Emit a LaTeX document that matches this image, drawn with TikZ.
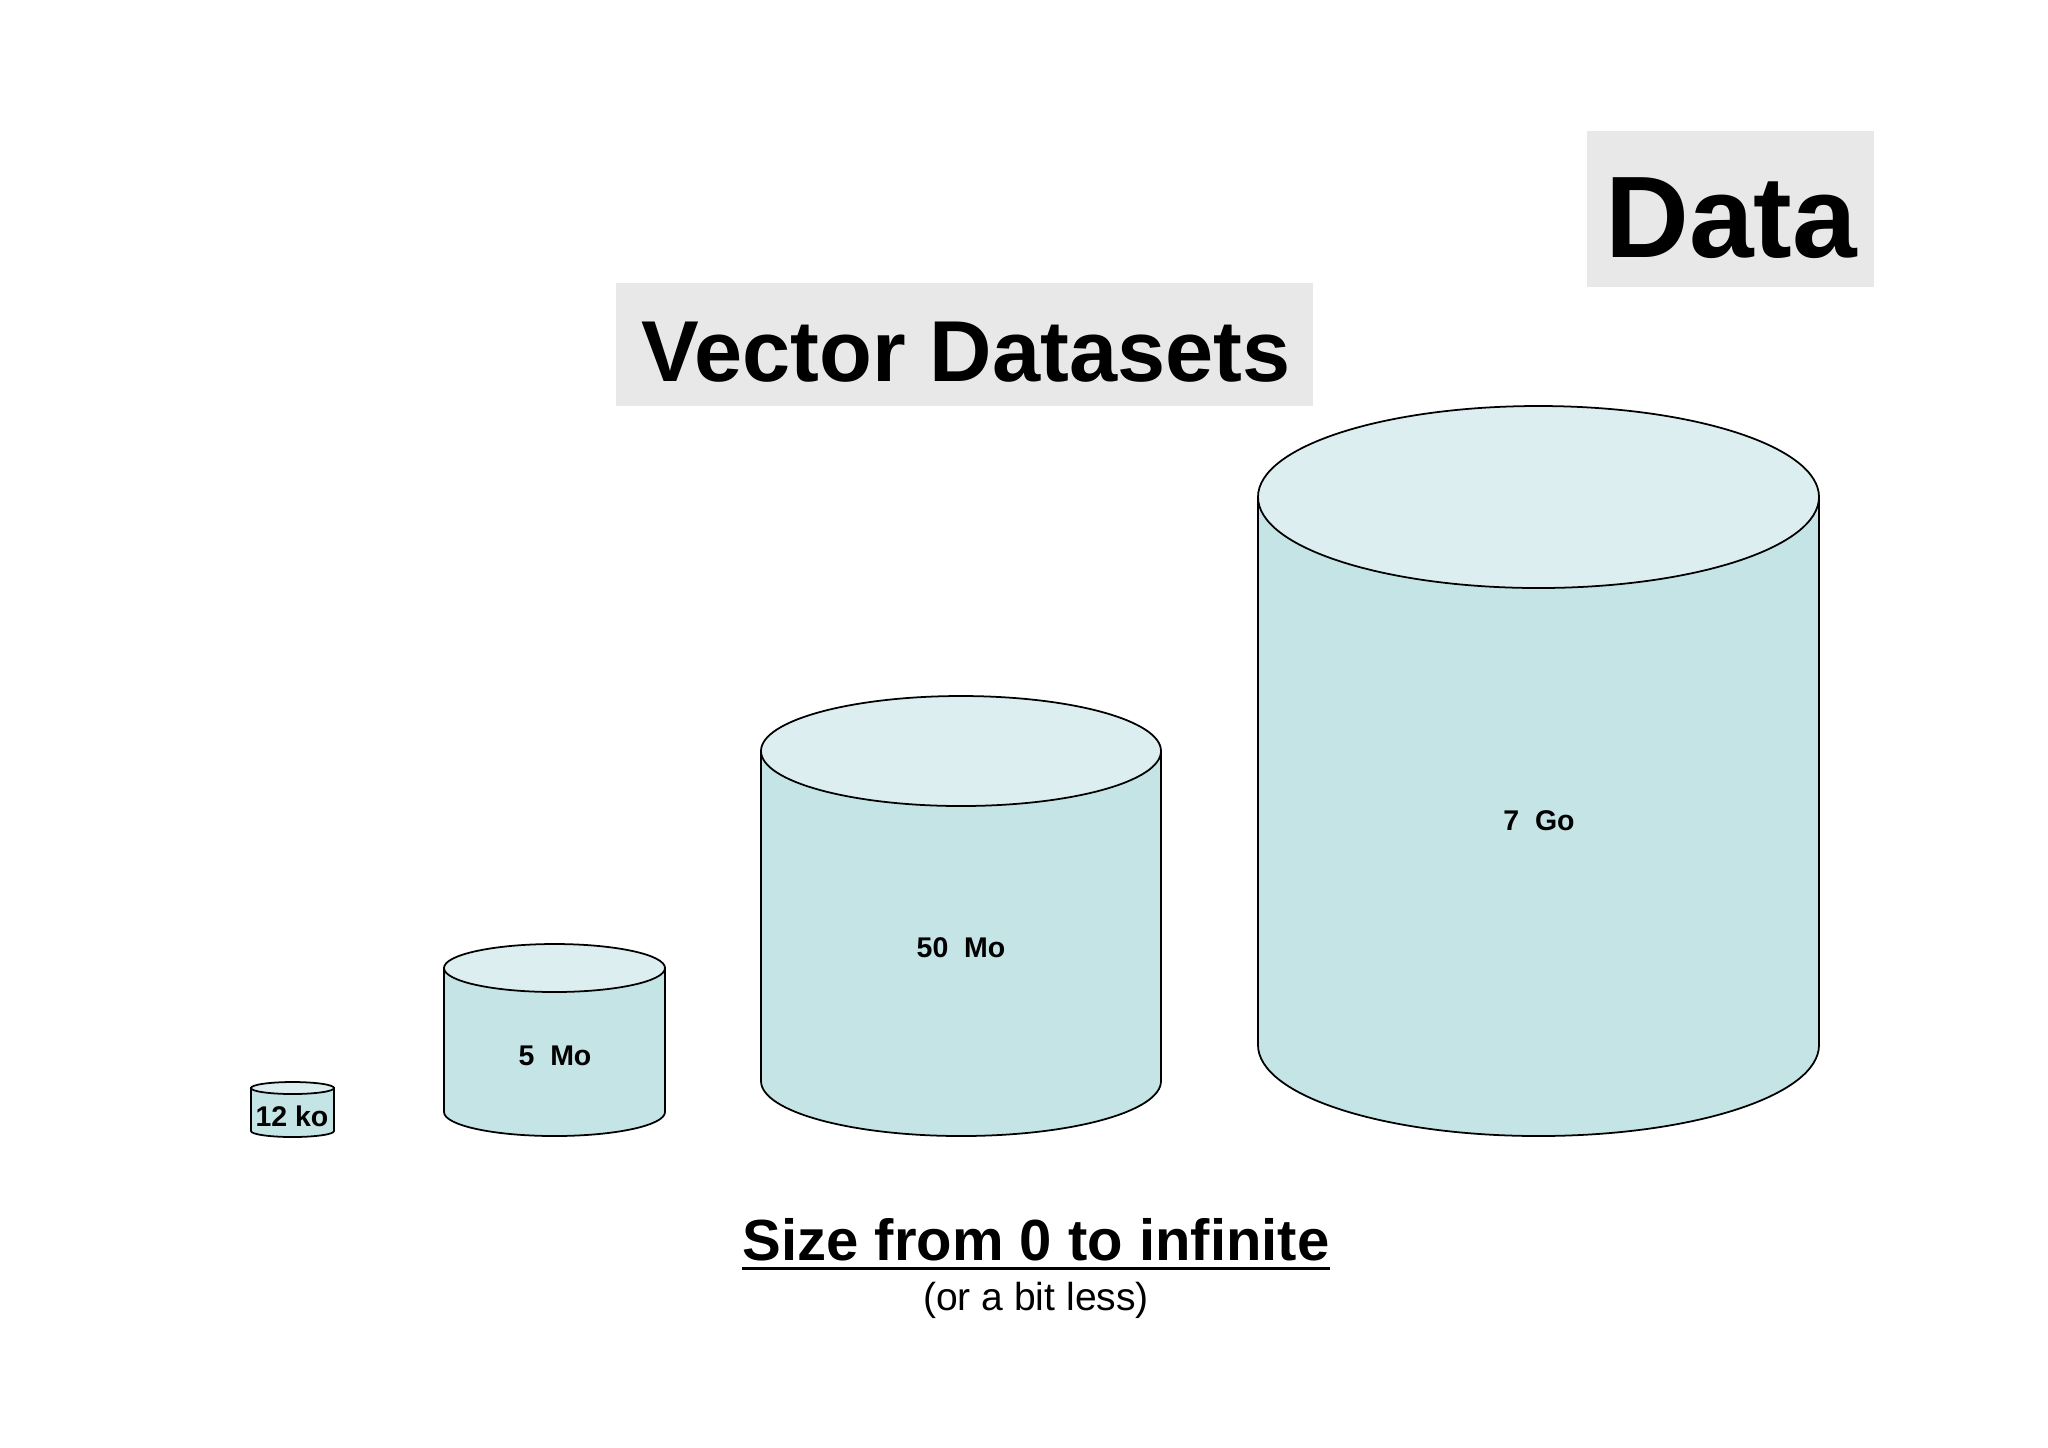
\documentclass[tikz,border=0pt]{standalone}
\usepackage{fontspec}
\setmainfont{Liberation Sans}
\definecolor{bodycol}{HTML}{C4E4E6}
\definecolor{topcol}{HTML}{DDEEF0}
\definecolor{boxgray}{HTML}{E8E8E8}
\tikzset{
  body/.style={fill=bodycol, draw=black, line width=0.5pt},
  topface/.style={fill=topcol, draw=black, line width=0.5pt},
  cyllabel/.style={font=\fontsize{8.1}{10}\selectfont\bfseries, inner sep=0pt},
  titletext/.style={anchor=base, inner sep=0pt, font=\bfseries}
}
\newcommand\dbcyl[5]{%
  \pgfmathsetmacro\myrx{(#2-#1)/2*0.01}%
  \pgfmathsetmacro\myry{#5*0.01}%
  \draw[body] (#1,#3) -- (#1,#4) arc[start angle=180,end angle=360,x radius=\myrx cm,y radius=\myry cm] -- (#2,#3) -- cycle;
  \draw[topface] ({(#1+#2)/2},#3) ellipse[x radius=\myrx cm, y radius=\myry cm];
}
\begin{document}
\begin{tikzpicture}[x=0.01cm,y=-0.01cm]
\useasboundingbox[fill=white] (0,0) rectangle (2048,1447);
% title boxes
\fill[boxgray] (1587,131) rectangle (1874,287);
\fill[boxgray] (616,283) rectangle (1313,406);
\node[titletext, font=\fontsize{33}{40}\selectfont\bfseries] (data) at (1731,257) {Data};
\node[titletext, font=\fontsize{24.6}{30}\selectfont\bfseries] (vector) at (966,381) {Vector Datasets};
% cylinders
\dbcyl{251}{334}{1088}{1131}{6}
\dbcyl{444}{665}{968}{1112}{24}
\dbcyl{761}{1161}{751}{1081}{55}
\dbcyl{1258}{1819}{497}{1045}{91}
\node[cyllabel] (c1) at (292,1116) {12 ko};
\node[cyllabel] (c2) at (555,1056) {5\ \ Mo};
\node[cyllabel] (c3) at (961,948) {50\ \ Mo};
\node[cyllabel] (c4) at (1539,821) {7\ \ Go};
% bottom text
\node[anchor=base, inner sep=0pt, font=\fontsize{16.5}{20}\selectfont\bfseries] (size) at (1036,1260) {Size from 0 to infinite};
\draw[line width=0.85pt] ([yshift=-0.08cm]size.base west) -- ([yshift=-0.08cm]size.base east);
\node[anchor=base, inner sep=0pt, font=\fontsize{11.1}{14}\selectfont] (less) at (1036,1310) {(or a bit less)};
\end{tikzpicture}
\end{document}
